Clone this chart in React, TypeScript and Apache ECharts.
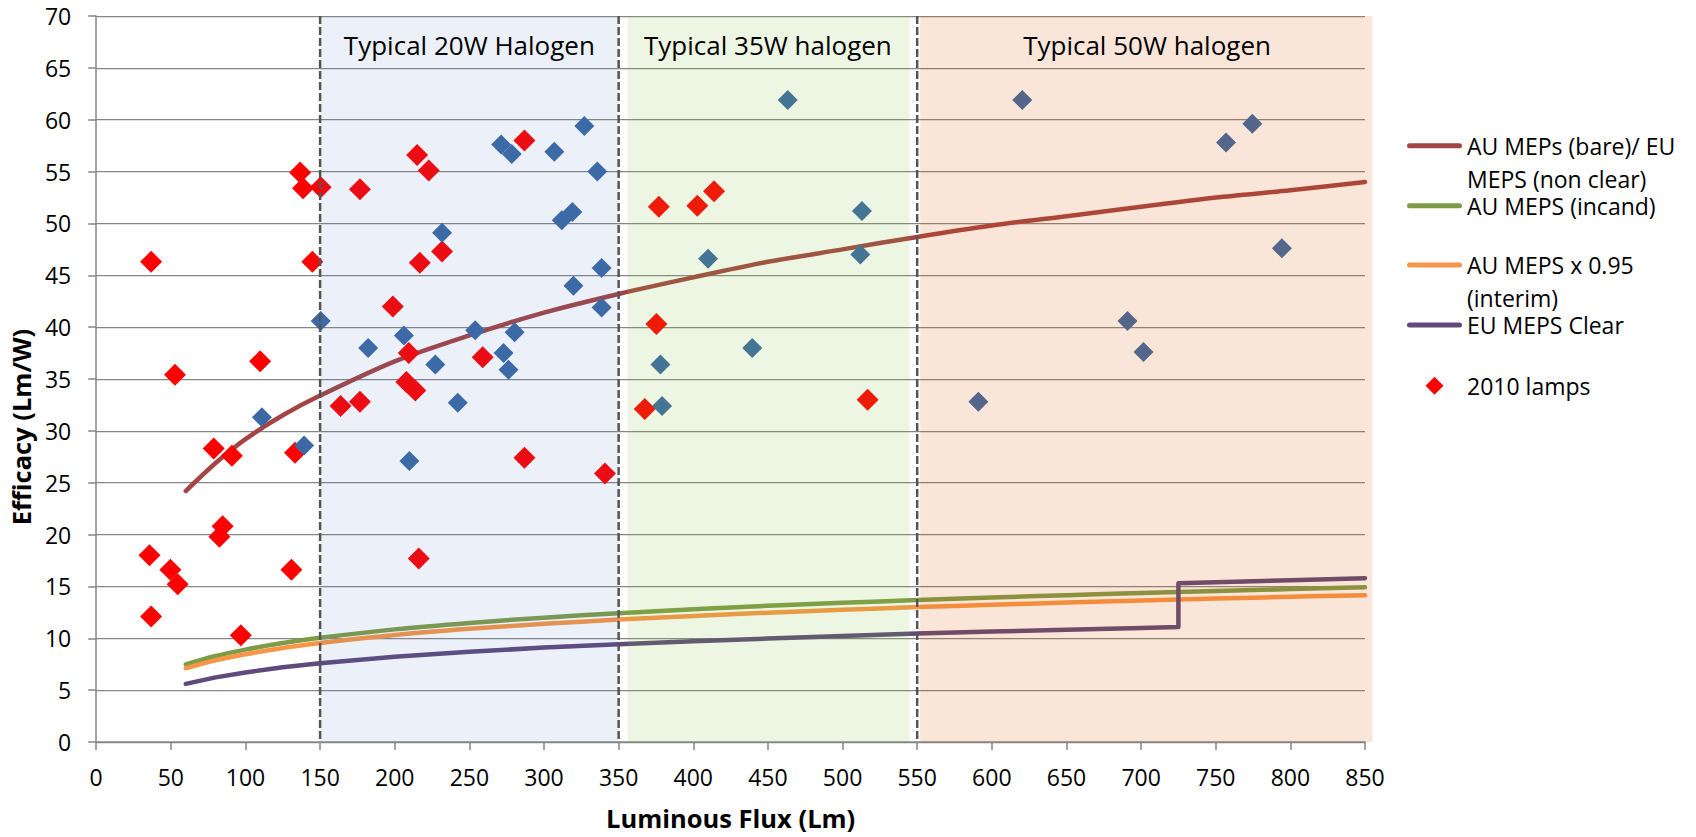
import React, { useEffect, useRef } from "react";
import * as echarts from "echarts";

const FONT = '"Open Sans", "Noto Sans", sans-serif';

// Axis ranges
const xRange = [0, 850];
const yRange = [0, 70];
const xStep = 50;
const yStep = 5;

// Shaded regions (typical halogen wattage bands)
const regionLabels = ["Typical 20W Halogen", "Typical 35W halogen", "Typical 50W halogen"];
const regionStart = [150, 356, 552];
const regionEnd = [350, 545, 855];
const regionLabelX = [250, 450, 704];
const regionLabelY = 67.2;
const regionColors = ["rgba(65,115,195,0.10)", "rgba(126,190,55,0.14)", "rgba(222,88,2,0.15)"];
const dividerX = [150, 350, 550];

// MEPS curves
const mepsFlux = [60, 80, 100, 125, 150, 200, 250, 300, 350, 400, 450, 500, 550, 600, 650, 700, 750, 800, 850];
const auBare = [24.2, 26.9, 29.2, 31.5, 33.4, 36.7, 39.2, 41.4, 43.2, 44.8, 46.3, 47.5, 48.7, 49.8, 50.7, 51.6, 52.5, 53.2, 54.0];
const auIncand = [7.48, 8.29, 8.91, 9.54, 10.05, 10.86, 11.48, 11.99, 12.42, 12.8, 13.13, 13.42, 13.69, 13.93, 14.16, 14.36, 14.56, 14.74, 14.91];
const auInterim = [7.11, 7.88, 8.46, 9.06, 9.55, 10.32, 10.91, 11.39, 11.8, 12.16, 12.47, 12.75, 13.01, 13.23, 13.45, 13.64, 13.83, 14.0, 14.16];
const euClearFlux = [60, 80, 100, 125, 150, 200, 250, 300, 350, 400, 450, 500, 550, 600, 650, 700, 725, 725, 750, 800, 850];
const euClear = [5.6, 6.23, 6.71, 7.2, 7.59, 8.22, 8.7, 9.1, 9.43, 9.72, 9.98, 10.21, 10.45, 10.65, 10.82, 10.98, 11.1, 15.3, 15.4, 15.6, 15.8];

// 2010 lamps (red diamonds)
const lamps2010X = [36.8, 52.8, 109.8, 136.6, 138.6, 150.4, 144.8, 176.7, 215, 222.8, 216.8, 231.7, 198.7, 209.4, 207.8, 213.8, 163.7, 176.7, 78.7, 90.9, 133.2, 84.7, 82.5, 35.7, 49.7, 54.6, 36.8, 96.9, 130.8, 216.1, 286.9, 258.9, 376.9, 402.7, 413.9, 375.3, 367.5, 516.8, 286.9, 340.8];
const lamps2010Y = [46.3, 35.4, 36.7, 54.9, 53.4, 53.5, 46.3, 53.3, 56.6, 55.1, 46.2, 47.3, 42.0, 37.5, 34.7, 33.9, 32.4, 32.8, 28.3, 27.6, 27.9, 20.8, 19.8, 18.0, 16.6, 15.2, 12.1, 10.3, 16.6, 17.7, 58.0, 37.1, 51.6, 51.7, 53.1, 40.3, 32.1, 33.0, 27.4, 25.9];

// other lamps (blue diamonds)
const otherX = [111, 139.3, 150.4, 182.2, 206.1, 227.2, 231.7, 209.8, 271.3, 278.4, 327, 306.9, 335.7, 311.9, 319, 338.6, 319.7, 338.6, 253.9, 280.3, 272.9, 276.2, 242.2, 463.3, 513, 409.9, 511.9, 439.5, 378, 379.1, 620.4, 756.9, 774.5, 794.3, 690.9, 701.6, 591];
const otherY = [31.3, 28.6, 40.6, 38.0, 39.2, 36.4, 49.1, 27.1, 57.6, 56.7, 59.4, 56.9, 55.0, 50.3, 51.1, 45.7, 44.0, 41.9, 39.7, 39.5, 37.5, 35.9, 32.7, 61.9, 51.2, 46.6, 47.0, 38.0, 36.4, 32.4, 61.9, 57.8, 59.6, 47.6, 40.6, 37.6, 32.8];

// Legend
const legendNames = ["AU MEPs (bare)/ EU MEPS (non clear)", "AU MEPS (incand)", "AU MEPS x 0.95 (interim)", "EU MEPS Clear", "2010 lamps"];
const legendLines = [["AU MEPs (bare)/ EU", "MEPS (non clear)"], ["AU MEPS (incand)"], ["AU MEPS x 0.95", "(interim)"], ["EU MEPS Clear"], ["2010 lamps"]];

// legend layout (pixels)
const LEGEND_ICON_LEFT = 1409.5;
const LEGEND_ICON_RIGHT = 1459.5;
const LEGEND_TEXT_LEFT = 1467;
const LEGEND_CENTERS = [145.7, 205.7, 265, 325, 385.7];
const LEGEND_LINE_GAP = 33;

const COLORS = {
  bare: "#A44444",
  incand: "#7E9C48",
  interim: "#F79646",
  clear: "#5F4A7B",
  lamps: "#FF0000",
  other: "#3C69A3",
  grid: "#868686",
};
const legendColors = [COLORS.bare, COLORS.incand, COLORS.interim, COLORS.clear, COLORS.lamps];

function zip(xs: number[], ys: number[]) {
  return xs.map((x, i) => [x, ys[i]]);
}

function lineSeries(name: string, xs: number[], ys: number[], color: string, smooth: number | boolean) {
  return {
    name,
    type: "line",
    data: zip(xs, ys),
    symbol: "none",
    showSymbol: false,
    smooth,
    silent: true,
    z: 2,
    itemStyle: { color },
    lineStyle: { color, width: 4.5, cap: "round", join: "round" },
  };
}

function buildLegendGraphics() {
  const els: any[] = [];
  legendNames.forEach((_name, i) => {
    const cy = LEGEND_CENTERS[i];
    const color = legendColors[i];
    if (i < 4) {
      els.push({
        type: "line",
        silent: true,
        shape: { x1: LEGEND_ICON_LEFT, y1: cy, x2: LEGEND_ICON_RIGHT, y2: cy },
        style: { stroke: color, lineWidth: 5, lineCap: "round" },
      });
    } else {
      const cx = (LEGEND_ICON_LEFT + LEGEND_ICON_RIGHT) / 2;
      els.push({
        type: "polygon",
        silent: true,
        shape: { points: [[cx, cy - 9], [cx + 9, cy], [cx, cy + 9], [cx - 9, cy]] },
        style: { fill: color },
      });
    }
    legendLines[i].forEach((t, k) => {
      els.push({
        type: "text",
        silent: true,
        x: LEGEND_TEXT_LEFT,
        y: cy + k * LEGEND_LINE_GAP,
        style: { text: t, fill: "#000", fontSize: 23, fontFamily: FONT, align: "left", verticalAlign: "middle" },
      });
    });
  });
  return els;
}

export default function App() {
  const ref = useRef<HTMLDivElement>(null);

  useEffect(() => {
    document.body.style.margin = "0";
    if (!ref.current) return;
    const chart = echarts.init(ref.current, null, { renderer: "svg" });

    const option: any = {
      animation: false,
      backgroundColor: "#fff",
      grid: { left: 93, top: 16, width: 1272, height: 726 },
      graphic: buildLegendGraphics(),
      xAxis: {
        type: "value",
        min: xRange[0],
        max: xRange[1],
        interval: xStep,
        axisLine: { show: true, onZero: false, lineStyle: { color: COLORS.grid, width: 1.5 } },
        axisTick: { show: true, length: 8, lineStyle: { color: COLORS.grid, width: 1.5 } },
        axisLabel: { fontSize: 23, fontFamily: FONT, color: "#000", margin: 23 },
        splitLine: { show: false },
        name: "Luminous Flux (Lm)",
        nameLocation: "middle",
        nameGap: 63,
        nameTextStyle: { fontSize: 25.5, fontWeight: "bold", fontFamily: FONT, color: "#000" },
      },
      yAxis: {
        type: "value",
        min: yRange[0],
        max: yRange[1],
        interval: yStep,
        axisLine: { show: true, onZero: false, lineStyle: { color: COLORS.grid, width: 1.5 } },
        axisTick: { show: true, length: 8, lineStyle: { color: COLORS.grid, width: 1.5 } },
        axisLabel: { fontSize: 23, fontFamily: FONT, color: "#000", margin: 25 },
        splitLine: { show: true, lineStyle: { color: COLORS.grid, width: 1.25 } },
        name: "Efficacy (Lm/W)",
        nameLocation: "middle",
        nameGap: 53,
        nameRotate: 90,
        nameTextStyle: { fontSize: 25.5, fontWeight: "bold", fontFamily: FONT, color: "#000", padding: [0, 96, 0, 0] },
      },
      series: [
        lineSeries(legendNames[0], mepsFlux, auBare, COLORS.bare, 0.3),
        lineSeries(legendNames[1], mepsFlux, auIncand, COLORS.incand, 0.3),
        lineSeries(legendNames[2], mepsFlux, auInterim, COLORS.interim, 0.3),
        lineSeries(legendNames[3], euClearFlux, euClear, COLORS.clear, false),
        {
          name: legendNames[4],
          type: "scatter",
          data: zip(lamps2010X, lamps2010Y),
          symbol: "diamond",
          symbolSize: 22,
          z: 3,
          itemStyle: { color: COLORS.lamps, opacity: 1 },
        },
        {
          name: "Other lamps",
          type: "scatter",
          data: zip(otherX, otherY),
          symbol: "diamond",
          symbolSize: 20,
          z: 3,
          itemStyle: { color: COLORS.other, opacity: 1 },
        },
        {
          name: "regions",
          type: "custom",
          z: 5,
          silent: true,
          clip: false,
          data: regionStart.map((s, i) => [s, regionEnd[i], regionLabelX[i], i]),
          renderItem: (_p: any, api: any) => {
            const i = api.value(3);
            const tl = api.coord([api.value(0), yRange[1]]);
            const br = api.coord([api.value(1), yRange[0]]);
            const lp = api.coord([api.value(2), regionLabelY]);
            return {
              type: "group",
              children: [
                {
                  type: "rect",
                  shape: { x: tl[0], y: tl[1], width: br[0] - tl[0], height: br[1] - tl[1] },
                  style: { fill: regionColors[i] },
                },
                {
                  type: "text",
                  style: {
                    x: lp[0],
                    y: lp[1],
                    text: regionLabels[i],
                    fill: "#000",
                    fontSize: 26,
                    fontFamily: FONT,
                    align: "center",
                    verticalAlign: "middle",
                  },
                },
              ],
            };
          },
        },
        {
          name: "dividers",
          type: "custom",
          z: 6,
          silent: true,
          clip: false,
          data: dividerX.map((x) => [x, yRange[0]]),
          renderItem: (_p: any, api: any) => {
            const a = api.coord([api.value(0), yRange[1]]);
            const b = api.coord([api.value(0), yRange[0]]);
            return {
              type: "line",
              shape: { x1: a[0], y1: a[1], x2: b[0], y2: b[1] },
              style: { stroke: "#555555", lineWidth: 2.5, lineDash: [8, 3] },
            };
          },
        },
      ],
    };

    chart.setOption(option);
    return () => chart.dispose();
  }, []);

  return <div ref={ref} style={{ width: 1696, height: 837 }} />;
}
